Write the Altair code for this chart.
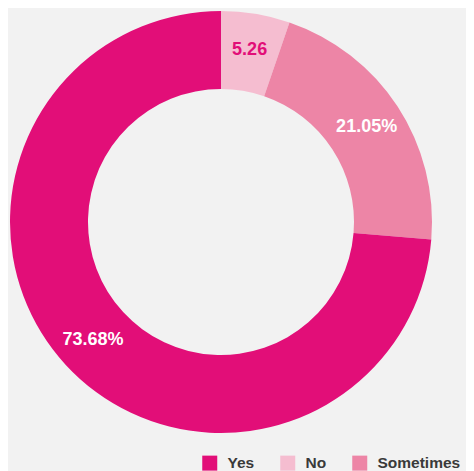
import altair as alt
import pandas as pd

categories = ["No", "Sometimes", "Yes"]
values = [5.26, 21.05, 73.68]
labels = ["5.26", "21.05%", "73.68%"]
legend_order = ["Yes", "No", "Sometimes"]
palette = ["#e20e78", "#f5bdd0", "#ed85a6"]

df = pd.DataFrame({"answer": categories, "value": values, "label": labels})

base = alt.Chart(df).transform_window(
    idx="row_number()"
).encode(
    theta=alt.Theta("value:Q", stack=True),
    order=alt.Order("idx:Q"),
    x=alt.value(213),
    y=alt.value(214),
)

arcs = base.mark_arc(outerRadius=211, innerRadius=133).encode(
    color=alt.Color(
        "answer:N",
        scale=alt.Scale(domain=legend_order, range=palette),
        legend=alt.Legend(
            title=None,
            orient="none",
            direction="horizontal",
            legendX=194,
            legendY=447,
            padding=0,
            symbolType="square",
            symbolSize=225,
            symbolStrokeWidth=0,
            symbolOpacity=1,
            labelFont="Liberation Sans",
            labelFontSize=15.5,
            labelFontWeight="bold",
            labelColor="#3a3a3a",
            labelOffset=10,
            columnPadding=25,
        ),
    )
)

text = base.mark_text(
    radius=174, font="Liberation Sans", fontSize=18, fontWeight="bold"
).encode(
    text="label:N",
    color=alt.condition(
        alt.datum.answer == "No", alt.value("#e20e78"), alt.value("#ffffff")
    ),
)

chart = alt.layer(arcs, text).properties(
    width=458,
    height=463,
    background="#f2f2f2",
    padding=0,
    autosize=alt.AutoSizeParams(type="none"),
).configure_view(stroke=None)

chart.save("out.html", embed_options={"renderer": "svg", "actions": False})
